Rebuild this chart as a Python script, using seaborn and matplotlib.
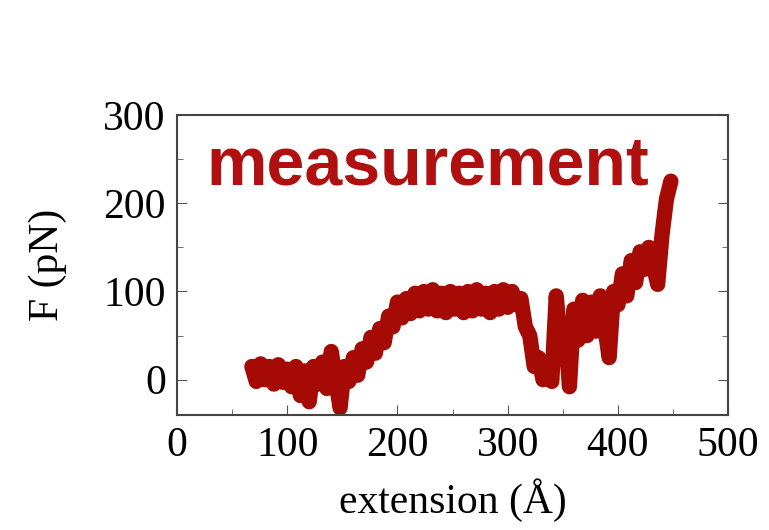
import numpy as np
import pandas as pd
import seaborn as sns
import matplotlib.pyplot as plt

extension = list(range(68, 452, 4))
force = [15, -2, 18, 0, 15, -5, 17, -3, 12, -8,
         15, -18, 10, -25, 15, -5, 20, -10, 32, 0,
         -32, 15, -2, 25, 5, 35, 20, 48, 30, 58,
         42, 72, 60, 88, 70, 92, 75, 98, 78, 100,
         80, 102, 78, 98, 76, 100, 80, 98, 76, 100,
         78, 102, 80, 98, 76, 100, 80, 102, 82, 100,
         85, 92, 60, 50, 15, 25, 0, 15, -2, 95,
         40, 60, -8, 80, 45, 90, 50, 88, 55, 95,
         60, 25, 100, 85, 120, 95, 135, 110, 145, 125,
         150, 130, 108, 165, 205, 225]
xticks = [0, 100, 200, 300, 400, 500]
yticks = [0, 100, 200, 300]

df = pd.DataFrame({'extension': extension, 'F': force})

sns.set_style('ticks')
plt.rcParams['font.family'] = ['Liberation Serif', 'DejaVu Serif']

fig, ax = plt.subplots(figsize=(7.69, 5.30), dpi=100)
fig.subplots_adjust(left=0.230, right=0.947, top=0.783, bottom=0.217)

sns.lineplot(data=df, x='extension', y='F', ax=ax, color='#A50A04',
             linewidth=11, sort=False, estimator=None)

ax.set_xlim(0, 500)
ax.set_ylim(-40, 300)
ax.set_xticks(xticks)
ax.set_yticks(yticks)
ax.set_xticks(range(50, 500, 100), minor=True)
ax.set_yticks(range(50, 300, 100), minor=True)
ax.tick_params(which='both', direction='in', right=True, labelsize=30,
               color='#555555', labelcolor='black', pad=8)
ax.tick_params(which='major', length=7)
ax.tick_params(which='minor', length=4)
for s in ax.spines.values():
    s.set_color('#444444')
    s.set_linewidth(1.5)

ax.set_xlabel('extension (Å)', fontsize=30, labelpad=10, color='black')
ax.set_ylabel('F (pN)', fontsize=30, labelpad=26, color='black')

ax.text(27, 221, 'measurement', color='#B01010', fontsize=49,
        fontweight='bold', family='Liberation Sans')

fig.savefig('out.png', dpi=100)
